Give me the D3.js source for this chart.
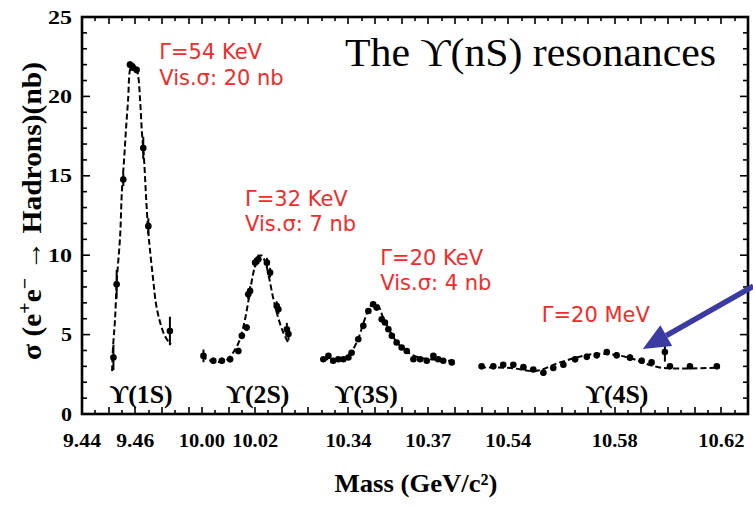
<!DOCTYPE html>
<html>
<head>
<meta charset="utf-8">
<script src="https://cdn.jsdelivr.net/npm/d3@7"></script>
<style>
    html, body { margin: 0; padding: 0; background: #fff; }
    svg { display: block; }
</style>
</head>
<body>
<div id="chart"></div>
<script>

// DATA
// ================================================================================== //

// broken mass axis: the four windows that are shown (GeV/c^2)
const massSegments = [[9.44, 9.48], [9.995, 10.045], [10.33, 10.385], [10.525, 10.63]];
const massTickLabels = [9.44, 9.46, 10.00, 10.02, 10.34, 10.37, 10.54, 10.58, 10.62];
const sigmaTickLabels = [0, 5, 10, 15, 20, 25];

// Y(1S) scan
const ups1sMass  = [9.4518, 9.4530, 9.4555, 9.4580, 9.4591, 9.4605, 9.4630, 9.4649, 9.4730];
const ups1sSigma = [3.56, 8.17, 14.76, 22.0, 21.8, 21.67, 16.75, 11.83, 5.23];
const ups1sErr   = [0.8, 0.9, 0.4, 0.2, 0.2, 0.2, 0.7, 0.5, 0.9];
const ups1sFitMass  = [9.4513, 9.4516, 9.4524, 9.4531, 9.4543, 9.4550, 9.4558, 9.4565, 9.4573, 9.4580,
                       9.4588, 9.4599, 9.4610, 9.4618, 9.4625, 9.4633, 9.4640, 9.4648, 9.4655, 9.4667,
                       9.4678, 9.4693, 9.4708, 9.4723, 9.4734];
const ups1sFitSigma = [2.70, 4.08, 5.97, 8.48, 11.18, 14.13, 16.02, 17.90, 19.79, 21.67,
                       22.05, 21.92, 21.36, 19.79, 17.71, 16.02, 13.82, 11.62, 10.36, 8.48,
                       6.91, 5.78, 5.03, 4.59, 4.40];

// Y(2S) scan
const ups2sMass  = [10.0006, 10.0043, 10.0075, 10.0106, 10.0137, 10.0150, 10.0168, 10.0174, 10.0181,
                    10.0200, 10.0212, 10.0244, 10.0256, 10.0281, 10.0287, 10.0319, 10.0325];
const ups2sSigma = [3.66, 3.35, 3.35, 3.45, 3.97, 4.92, 5.44, 7.54, 7.75,
                    9.53, 9.74, 9.53, 8.90, 6.80, 6.60, 5.34, 5.03];
const ups2sErr   = [0.4, 0.2, 0.2, 0.2, 0.2, 0.2, 0.2, 0.3, 0.3, 0.3, 0.3, 0.3, 0.3, 0.3, 0.3, 0.4, 0.4];
const ups2sFitMass  = [9.9997, 10.0038, 10.0087, 10.0121, 10.0143, 10.0162, 10.0177, 10.0192,
                       10.0207, 10.0222, 10.0237, 10.0252, 10.0267, 10.0286, 10.0305, 10.0323];
const ups2sFitSigma = [3.64, 3.33, 3.33, 3.96, 4.71, 5.97, 7.35, 8.79,
                       9.74, 9.99, 9.61, 8.61, 7.35, 6.09, 5.15, 4.52];

// Y(3S) scan
const ups3sMass  = [10.3306, 10.3325, 10.3343, 10.3362, 10.3381, 10.3400, 10.3412, 10.3437, 10.3456,
                    10.3475, 10.3493, 10.3506, 10.3525, 10.3537, 10.3550, 10.3563, 10.3581, 10.3600,
                    10.3619, 10.3644, 10.3669, 10.3694, 10.3719, 10.3737, 10.3756, 10.3788];
const ups3sSigma = [3.45, 3.66, 3.35, 3.45, 3.45, 3.56, 3.86, 4.71, 5.55,
                    6.49, 6.91, 6.70, 5.97, 5.76, 5.34, 4.92, 4.50, 4.19,
                    3.97, 3.45, 3.45, 3.35, 3.66, 3.45, 3.35, 3.25];
const ups3sFitMass  = [10.3301, 10.3350, 10.3387, 10.3413, 10.3436, 10.3455, 10.3473, 10.3492,
                       10.3511, 10.3530, 10.3556, 10.3582, 10.3612, 10.3650, 10.3706, 10.3800];
const ups3sFitSigma = [3.45, 3.45, 3.56, 3.96, 4.71, 5.65, 6.47, 6.97,
                       6.85, 6.09, 5.21, 4.52, 4.02, 3.64, 3.45, 3.33];

// Y(4S) scan
const ups4sMass  = [10.5300, 10.5344, 10.5381, 10.5419, 10.5457, 10.5494, 10.5532, 10.5569, 10.5607,
                    10.5651, 10.5695, 10.5732, 10.5770, 10.5807, 10.5857, 10.5901, 10.5938, 10.5988,
                    10.6007, 10.6082, 10.6183];
const ups4sSigma = [3.0, 3.0, 3.1, 3.1, 2.95, 2.8, 2.6, 2.9, 3.1,
                    3.45, 3.6, 3.7, 3.9, 3.7, 3.55, 3.35, 3.25, 3.9,
                    3.0, 3.0, 3.0];
const ups4sErr   = [0.15, 0.15, 0.15, 0.15, 0.15, 0.15, 0.2, 0.15, 0.15,
                    0.2, 0.2, 0.2, 0.2, 0.2, 0.2, 0.2, 0.2, 0.6,
                    0.15, 0.15, 0.15];
const ups4sFitMass  = [10.5294, 10.5407, 10.5507, 10.5594, 10.5719, 10.5807, 10.5869, 10.5969, 10.6194];
const ups4sFitSigma = [2.93, 2.90, 2.72, 3.25, 3.77, 3.71, 3.46, 2.93, 2.93];

const resonanceNames = ["ϒ(1S)", "ϒ(2S)", "ϒ(3S)", "ϒ(4S)"];
const resonanceLabelMass = [9.4622, 10.0210, 10.3467, 10.5808];
const widthNotes = [
    ["Γ=54 KeV", "Vis.σ: 20 nb"],
    ["Γ=32 KeV", "Vis.σ: 7 nb"],
    ["Γ=20 KeV", "Vis.σ: 4 nb"],
    ["Γ=20 MeV"]
];
const widthNoteMass  = [9.4690, 10.0162, 10.3520, 10.5526];
const widthNoteSigma = [22.35, 13.1, 9.4, 5.8];

// arrow pointing at the Y(4S) bump (tail is off the frame, to the right)
const arrowTail = [10.632, 8.05];
const arrowTip  = [10.5905, 4.1];

// ================================================================================== //
// DATA END


const width = 753;
const height = 509;
const margin = ({ top: 17, right: 5, bottom: 94, left: 82 });

const svg = d3.select("#chart")
    .append("svg")
    .attr("width", width)
    .attr("height", height)
    .attr("viewBox", [0, 0, width, height]);

// piecewise scale for the broken axis, every window gets the same GeV per pixel
const plotWidth = width - margin.left - margin.right;
const totalSpan = d3.sum(massSegments, s => s[1] - s[0]);
const rangeStops = [];
let acc = margin.left;
massSegments.forEach(s => {
    rangeStops.push(acc);
    acc += (s[1] - s[0]) / totalSpan * plotWidth;
    rangeStops.push(acc);
});

const x = d3.scaleLinear()
    .domain(massSegments.flat())
    .range(rangeStops);

const y = d3.scaleLinear()
    .domain([0, 25])
    .range([height - margin.bottom - 1, margin.top]);

const x0 = margin.left, x1 = width - margin.right;
const y0 = y(0), y1 = y(25);


// Axes / frame
// ================================================================================= //

const axisG = svg.append("g").attr("stroke", "#000");

// mass ticks every 5 MeV, longer every 10 MeV
const massTicks = [];
const seen = new Set();
massSegments.forEach(s => {
    const iStart = Math.ceil(s[0] * 200 - 1e-6);
    const iEnd = Math.floor(s[1] * 200 + 1e-6);
    for (let i = iStart; i <= iEnd; i++) {
        const px = Math.round(x(i / 200));
        if (seen.has(px)) continue;
        seen.add(px);
        massTicks.push({ px, major: i % 2 === 0 });
    }
});

axisG.selectAll(".xtick-b")
    .data(massTicks)
    .join("line")
    .attr("x1", d => d.px).attr("x2", d => d.px)
    .attr("y1", y0).attr("y2", d => y0 - (d.major ? 7 : 4))
    .attr("stroke-width", 1.6);

axisG.selectAll(".xtick-t")
    .data(massTicks)
    .join("line")
    .attr("x1", d => d.px).attr("x2", d => d.px)
    .attr("y1", y1).attr("y2", d => y1 + (d.major ? 7 : 4))
    .attr("stroke-width", 1.6);

// sigma ticks every 1 nb, longer every 5
const sigmaTicks = d3.range(0, 26);
axisG.selectAll(".ytick-l")
    .data(sigmaTicks)
    .join("line")
    .attr("x1", x0).attr("x2", d => x0 + (d % 5 === 0 ? 8 : 5))
    .attr("y1", d => y(d)).attr("y2", d => y(d))
    .attr("stroke-width", 1.6);

axisG.selectAll(".ytick-r")
    .data(sigmaTicks)
    .join("line")
    .attr("x1", x1).attr("x2", d => x1 - (d % 5 === 0 ? 8 : 5))
    .attr("y1", d => y(d)).attr("y2", d => y(d))
    .attr("stroke-width", 1.6);

// frame
svg.append("rect")
    .attr("x", x0).attr("y", y1)
    .attr("width", x1 - x0).attr("height", y0 - y1)
    .attr("fill", "none")
    .attr("stroke", "#000")
    .attr("stroke-width", 2.6);

const tickFont = "'Liberation Serif', 'Times New Roman', serif";

svg.selectAll(".xlabel")
    .data(massTickLabels)
    .join("text")
    .attr("x", d => x(d))
    .attr("y", 447)
    .attr("text-anchor", "middle")
    .attr("font-family", tickFont)
    .attr("font-weight", "bold")
    .attr("font-size", 18)
    .attr("textLength", d => d < 10 ? 38 : 46)
    .attr("lengthAdjust", "spacingAndGlyphs")
    .text(d => d.toFixed(2));

svg.selectAll(".ylabel")
    .data(sigmaTickLabels)
    .join("text")
    .attr("x", 72)
    .attr("y", d => y(d) + 6.5)
    .attr("text-anchor", "end")
    .attr("font-family", tickFont)
    .attr("font-weight", "bold")
    .attr("font-size", 19)
    .attr("textLength", d => d < 10 ? 11 : 24)
    .attr("lengthAdjust", "spacingAndGlyphs")
    .text(d => d);

// axis titles
svg.append("text")
    .attr("x", 416)
    .attr("y", 492)
    .attr("text-anchor", "middle")
    .attr("font-family", tickFont)
    .attr("font-weight", "bold")
    .attr("font-size", 26)
    .attr("textLength", 163)
    .attr("lengthAdjust", "spacingAndGlyphs")
    .text("Mass (GeV/c²)");

const yTitle = svg.append("text")
    .attr("transform", "translate(41,211) rotate(-90)")
    .attr("text-anchor", "middle")
    .attr("font-family", tickFont)
    .attr("font-weight", "bold")
    .attr("font-size", 28)
    .attr("textLength", 298)
    .attr("lengthAdjust", "spacingAndGlyphs");
yTitle.append("tspan").text("σ (e");
yTitle.append("tspan").attr("dy", -10).attr("font-size", 19).text("+");
yTitle.append("tspan").attr("dy", 10).text("e");
yTitle.append("tspan").attr("dy", -10).attr("font-size", 19).text("−");
yTitle.append("tspan").attr("dy", 10).text(" → Hadrons)(nb)");

// ================================================================================= //
// Axes END


// Data: fits and points
// ================================================================================= //

const zip = (a, b, c) => a.map((v, i) => ({ m: v, s: b[i], e: c ? c[i] : 0 }));

const fits = [
    zip(ups1sFitMass, ups1sFitSigma),
    zip(ups2sFitMass, ups2sFitSigma),
    zip(ups3sFitMass, ups3sFitSigma),
    zip(ups4sFitMass, ups4sFitSigma)
];
const scans = [
    zip(ups1sMass, ups1sSigma, ups1sErr),
    zip(ups2sMass, ups2sSigma, ups2sErr),
    zip(ups3sMass, ups3sSigma),
    zip(ups4sMass, ups4sSigma, ups4sErr)
];

const line = d3.line()
    .x(d => x(d.m))
    .y(d => y(d.s))
    .curve(d3.curveCatmullRom);

svg.append("g")
    .selectAll("path")
    .data(fits)
    .join("path")
    .attr("d", line)
    .attr("fill", "none")
    .attr("stroke", "#000")
    .attr("stroke-width", 2)
    .attr("stroke-dasharray", "6,3");

const pts = scans.flat();

svg.append("g")
    .selectAll("line")
    .data(pts.filter(d => d.e > 0))
    .join("line")
    .attr("x1", d => x(d.m)).attr("x2", d => x(d.m))
    .attr("y1", d => y(d.s - d.e)).attr("y2", d => y(d.s + d.e))
    .attr("stroke", "#000")
    .attr("stroke-width", 2);

svg.append("g")
    .selectAll("circle")
    .data(pts)
    .join("circle")
    .attr("cx", d => x(d.m))
    .attr("cy", d => y(d.s))
    .attr("r", 3.3)
    .attr("fill", "#000");

// ================================================================================= //
// Data END


// Annotations
// ================================================================================= //

svg.selectAll(".resname")
    .data(resonanceNames)
    .join("text")
    .attr("x", (d, i) => x(resonanceLabelMass[i]))
    .attr("y", 403)
    .attr("text-anchor", "middle")
    .attr("font-family", tickFont)
    .attr("font-weight", "bold")
    .attr("font-size", 26)
    .attr("textLength", 63)
    .attr("lengthAdjust", "spacingAndGlyphs")
    .text(d => d);

const notes = svg.append("g")
    .attr("fill", "#f42a2a")
    .attr("font-family", "'DejaVu Sans', Verdana, sans-serif")
    .attr("font-size", 21);

widthNotes.forEach((lines, i) => {
    notes.selectAll(null)
        .data(lines)
        .join("text")
        .attr("x", x(widthNoteMass[i]))
        .attr("y", (d, j) => y(widthNoteSigma[i]) + j * 25.5)
        .text(d => d);
});

svg.append("text")
    .attr("x", 345)
    .attr("y", 66)
    .attr("font-family", tickFont)
    .attr("font-size", 40)
    .attr("textLength", 371)
    .attr("lengthAdjust", "spacingAndGlyphs")
    .attr("fill", "#000")
    .text("The ϒ(nS) resonances");

// blue arrow
const ax0 = x(arrowTail[0]), ay0 = y(arrowTail[1]);
const ax1 = x(arrowTip[0]), ay1 = y(arrowTip[1]);
const ang = Math.atan2(ay1 - ay0, ax1 - ax0);
const headLen = 27, headHalf = 12;
const bx = ax1 - headLen * Math.cos(ang), by = ay1 - headLen * Math.sin(ang);
const arrowColor = "#3b3ba2";

svg.append("line")
    .attr("x1", ax0).attr("y1", ay0)
    .attr("x2", bx).attr("y2", by)
    .attr("stroke", arrowColor)
    .attr("stroke-width", 5.5);

svg.append("polygon")
    .attr("points", [
        [ax1, ay1],
        [bx + headHalf * Math.sin(ang), by - headHalf * Math.cos(ang)],
        [bx - headHalf * Math.sin(ang), by + headHalf * Math.cos(ang)]
    ].map(p => p.join(",")).join(" "))
    .attr("fill", arrowColor);

// ================================================================================= //
// Annotations END

</script>
</body>
</html>
